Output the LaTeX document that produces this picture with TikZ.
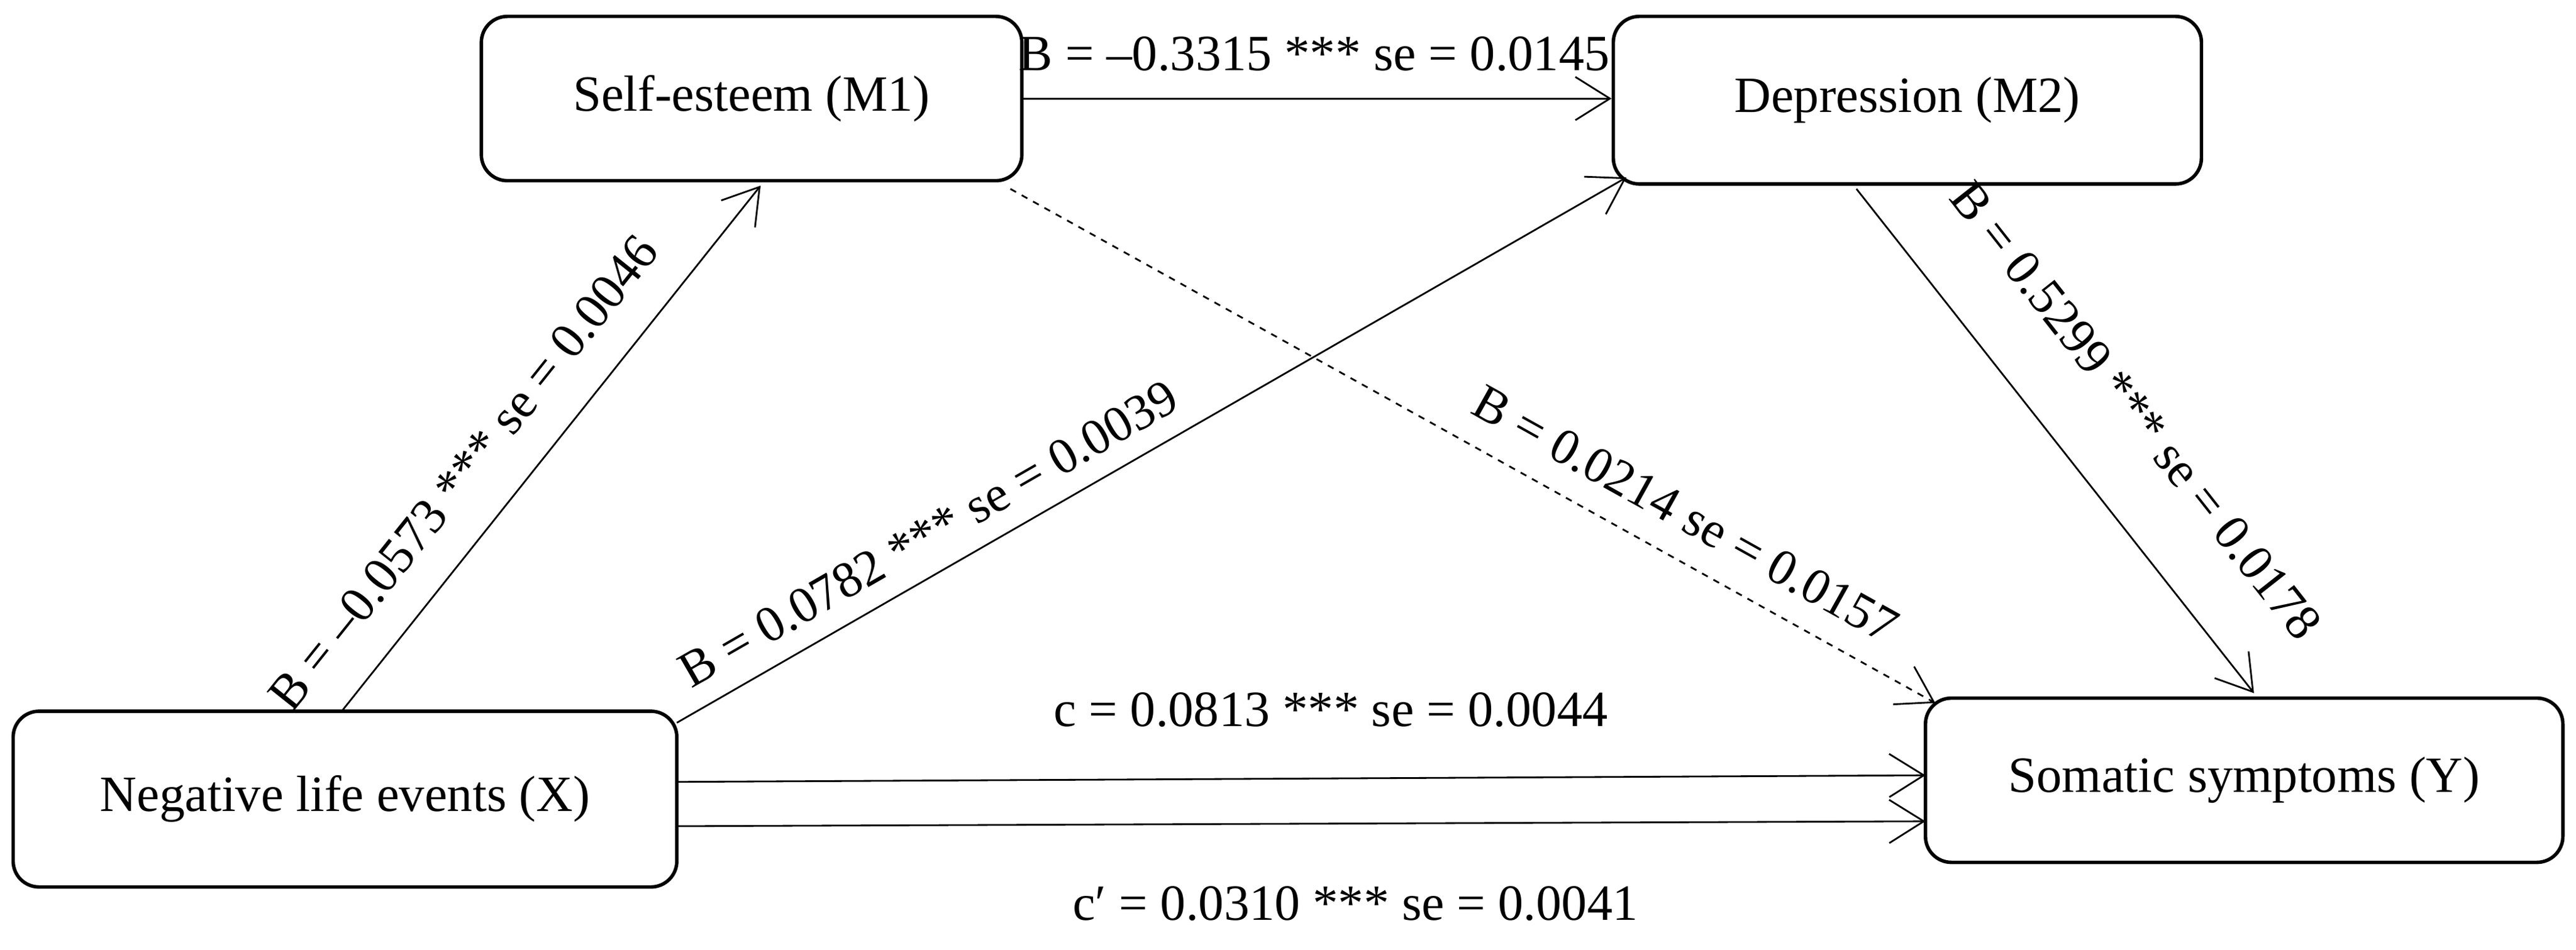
\documentclass[tikz,border=0pt]{standalone}
\usepackage{fontspec}
\setmainfont{Liberation Serif}
\usetikzlibrary{arrows.meta}
\begin{document}
\begin{tikzpicture}[x=0.0267cm,y=-0.0267cm,
 box/.style={draw,line width=1.6pt,rounded corners=12pt,inner sep=0pt},
 arr/.style={line width=0.8pt,-{Straight Barb[length=16pt,width=20pt,line width=0.8pt]}},
 lab/.style={font=\fontsize{23.5}{28}\selectfont,inner sep=0pt}]
\useasboundingbox (0,0) rectangle (1568,578);
\node[box,minimum width=329*0.0267cm,minimum height=100*0.0267cm] (m1) at (457.5,60) {};
\node[lab] at (m1) {Self-esteem (M1)};
\node[box,minimum width=358*0.0267cm,minimum height=102*0.0267cm] (m2) at (1161,61) {};
\node[lab] at (m2) {Depression (M2)};
\node[box,minimum width=404*0.0267cm,minimum height=107*0.0267cm] (x) at (210,486.5) {};
\node[lab] at (x) {Negative life events (X)};
\node[box,minimum width=388*0.0267cm,minimum height=100*0.0267cm] (y) at (1366,475) {};
\node[lab] at (y) {Somatic symptoms (Y)};
\coordinate (a1) at (208,433); \coordinate (a2) at (463,113);
\draw[arr] (a1) -- (a2);
\node[lab,rotate=51.4] at (282,288) {B = –0.0573 *** se = 0.0046};
\draw[arr] (m1.east) -- (m2.west|-m1.east);
\node[lab] at (800,33) {B = –0.3315 *** se = 0.0145};
\coordinate (b1) at (412,440); \coordinate (b2) at (990,108);
\draw[arr] (b1) -- (b2);
\node[lab,rotate=29.9] at (565,325) {B = 0.0782 *** se = 0.0039};
\coordinate (c1) at (615,115); \coordinate (c2) at (1178,428);
\draw[arr,dashed] (c1) -- (c2);
\node[lab,rotate=-29.1] at (1026,313) {B = 0.0214 se = 0.0157};
\coordinate (d1) at (1130,115); \coordinate (d2) at (1372,422);
\draw[arr] (d1) -- (d2);
\node[lab,rotate=-51.8] at (1300,250) {B = 0.5299 *** se = 0.0178};
\coordinate (e1) at (412,476); \coordinate (e2) at (1172,472);
\draw[arr] (e1) -- (e2);
\coordinate (f1) at (412,503); \coordinate (f2) at (1172,500);
\draw[arr] (f1) -- (f2);
\node[lab] at (810,432) {c = 0.0813 *** se = 0.0044};
\node[lab] at (825,550) {c′ = 0.0310 *** se = 0.0041};
\end{tikzpicture}
\end{document}
